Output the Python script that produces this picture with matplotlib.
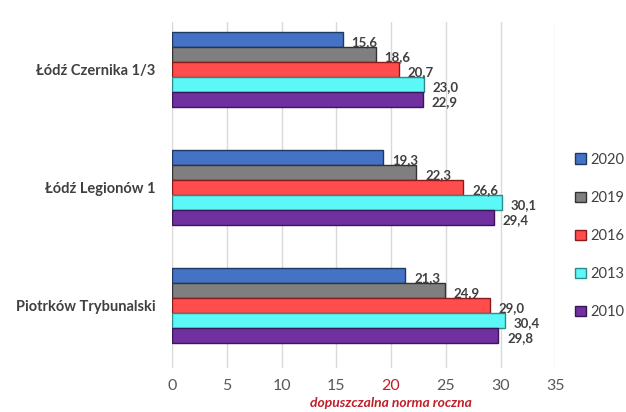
import numpy as np
import matplotlib.pyplot as plt

plt.rcParams['font.family'] = ['Lato', 'DejaVu Sans']

#data
stations = ['Łódź Czernika 1/3', 'Łódź Legionów 1', 'Piotrków Trybunalski']
years = ['2020', '2019', '2016', '2013', '2010']
values = {
    '2020': [15.6, 19.3, 21.3],
    '2019': [18.6, 22.3, 24.9],
    '2016': [20.7, 26.6, 29.0],
    '2013': [23.0, 30.1, 30.4],
    '2010': [22.9, 29.4, 29.8],
}
x_ticks = [0, 5, 10, 15, 20, 25, 30, 35]

colors = ['#4472C4', '#7F7F7F', '#FF4D4D', '#5CF7F7', '#7030A0']
edges = ['#1F3864', '#333333', '#8B1A1A', '#2E8B8B', '#3A1656']

fig = plt.figure(figsize=(6.26, 4.12), dpi=100)
ax = fig.add_axes([0.275, 0.107, 0.612, 0.84])

bar_h = 0.127
y = np.arange(len(stations))
for i, yr in enumerate(years):
    pos = y - 2 * bar_h + i * bar_h
    ax.barh(pos, values[yr], height=bar_h, color=colors[i], edgecolor=edges[i],
            linewidth=1.0, zorder=3, label=yr)
    for p, v in zip(pos, values[yr]):
        ax.text(v + 0.8, p + 0.015, ('%.1f' % v).replace('.', ','), va='center', ha='left',
                fontsize=9.5, fontweight='bold', color='#404040', zorder=4)

ax.set_xlim(0, 35)
ax.set_ylim(2.525, -0.407)
ax.set_xticks(x_ticks)
ax.set_xticklabels([str(t) for t in x_ticks], fontsize=11.5, color='#595959')
ax.get_xticklabels()[4].set_color('#C0202A')
ax.tick_params(axis='x', length=0, pad=8)
ax.set_yticks(y)
ax.set_yticklabels(stations, fontsize=10.5, fontweight='bold', color='#404040')
ax.tick_params(axis='y', length=0, pad=12)
ax.grid(axis='x', color='#D9D9D9', linewidth=1, zorder=0)
for s in ax.spines.values():
    s.set_visible(False)

# norm caption under the 20 tick
fig.text(0.275 + 0.612 * 20 / 35, 1 - 403 / 412, 'dopuszczalna norma roczna',
         ha='center', va='center', fontsize=10, fontstyle='italic',
         fontweight='bold', color='#C0202A')

# legend
handles, labels = ax.get_legend_handles_labels()
leg = fig.legend(handles, labels, loc='center left', bbox_to_anchor=(0.918, 1 - 236 / 412),
                 frameon=False, fontsize=10.5, handlelength=0.75, handleheight=0.75,
                 labelspacing=1.65, handletextpad=0.35, borderpad=0, borderaxespad=0)
for t in leg.get_texts():
    t.set_color('#404040')

plt.savefig('out.png', dpi=100)
